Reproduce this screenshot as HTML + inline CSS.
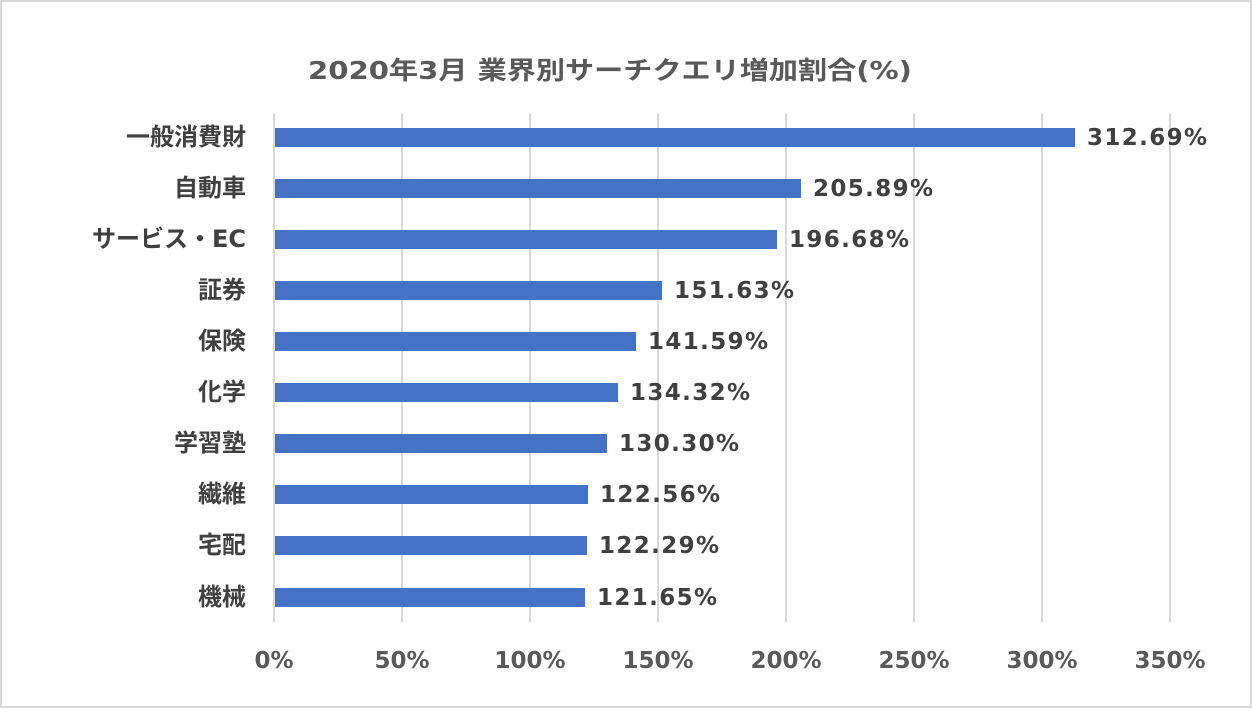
<!DOCTYPE html>
<html><head><meta charset="utf-8"><style>
html,body{margin:0;padding:0;background:#fff;}
svg text{font-family:"DejaVu Sans","Noto Sans CJK JP",sans-serif;font-weight:bold;}
</style></head><body>
<svg width="1252" height="708" viewBox="0 0 1252 708" xmlns="http://www.w3.org/2000/svg">
<rect x="1" y="1" width="1250" height="706" fill="#fff" stroke="#d9d9d9" stroke-width="2"/>
<text x="610" y="79" font-size="25" fill="#595959" text-anchor="middle" textLength="604" lengthAdjust="spacingAndGlyphs">2020年3月 業界別サーチクエリ増加割合(%)</text>
<g stroke="#d9d9d9" stroke-width="2">
<line x1="274" y1="113" x2="274" y2="622"/>
<line x1="402" y1="113" x2="402" y2="622"/>
<line x1="530" y1="113" x2="530" y2="622"/>
<line x1="658" y1="113" x2="658" y2="622"/>
<line x1="786" y1="113" x2="786" y2="622"/>
<line x1="914" y1="113" x2="914" y2="622"/>
<line x1="1042" y1="113" x2="1042" y2="622"/>
<line x1="1170" y1="113" x2="1170" y2="622"/>
</g>
<g fill="#595959" font-size="23" text-anchor="middle">
<text x="274" y="668">0%</text><text x="402" y="668">50%</text><text x="530" y="668">100%</text><text x="658" y="668">150%</text><text x="786" y="668">200%</text><text x="914" y="668">250%</text><text x="1042" y="668">300%</text><text x="1170" y="668">350%</text>
</g>
<g fill="#4472c4">
<rect x="275" y="128" width="800" height="19"/>
<rect x="275" y="179" width="526" height="19"/>
<rect x="275" y="230" width="502" height="19"/>
<rect x="275" y="281" width="387" height="19"/>
<rect x="275" y="332" width="361" height="19"/>
<rect x="275" y="383" width="343" height="19"/>
<rect x="275" y="434" width="332" height="19"/>
<rect x="275" y="485" width="313" height="19"/>
<rect x="275" y="536" width="312" height="19"/>
<rect x="275" y="588" width="310" height="19"/>
</g>
<g fill="#404040" font-size="23">
<text x="1087" y="145" textLength="120">312.69%</text>
<text x="813" y="196" textLength="120">205.89%</text>
<text x="789" y="247" textLength="120">196.68%</text>
<text x="674" y="298" textLength="120">151.63%</text>
<text x="648" y="349" textLength="120">141.59%</text>
<text x="630" y="400" textLength="120">134.32%</text>
<text x="619" y="451" textLength="120">130.30%</text>
<text x="600" y="502" textLength="120">122.56%</text>
<text x="599" y="553" textLength="120">122.29%</text>
<text x="597" y="605" textLength="120">121.65%</text>
</g>
<g fill="#404040" font-size="24" text-anchor="end">
<text x="246" y="145">一般消費財</text>
<text x="246" y="196">自動車</text>
<text x="246" y="247">サービス・EC</text>
<text x="246" y="298">証券</text>
<text x="246" y="349">保険</text>
<text x="246" y="400">化学</text>
<text x="246" y="451">学習塾</text>
<text x="246" y="502">繊維</text>
<text x="246" y="553">宅配</text>
<text x="246" y="605">機械</text>
</g>
</svg>
</body></html>
